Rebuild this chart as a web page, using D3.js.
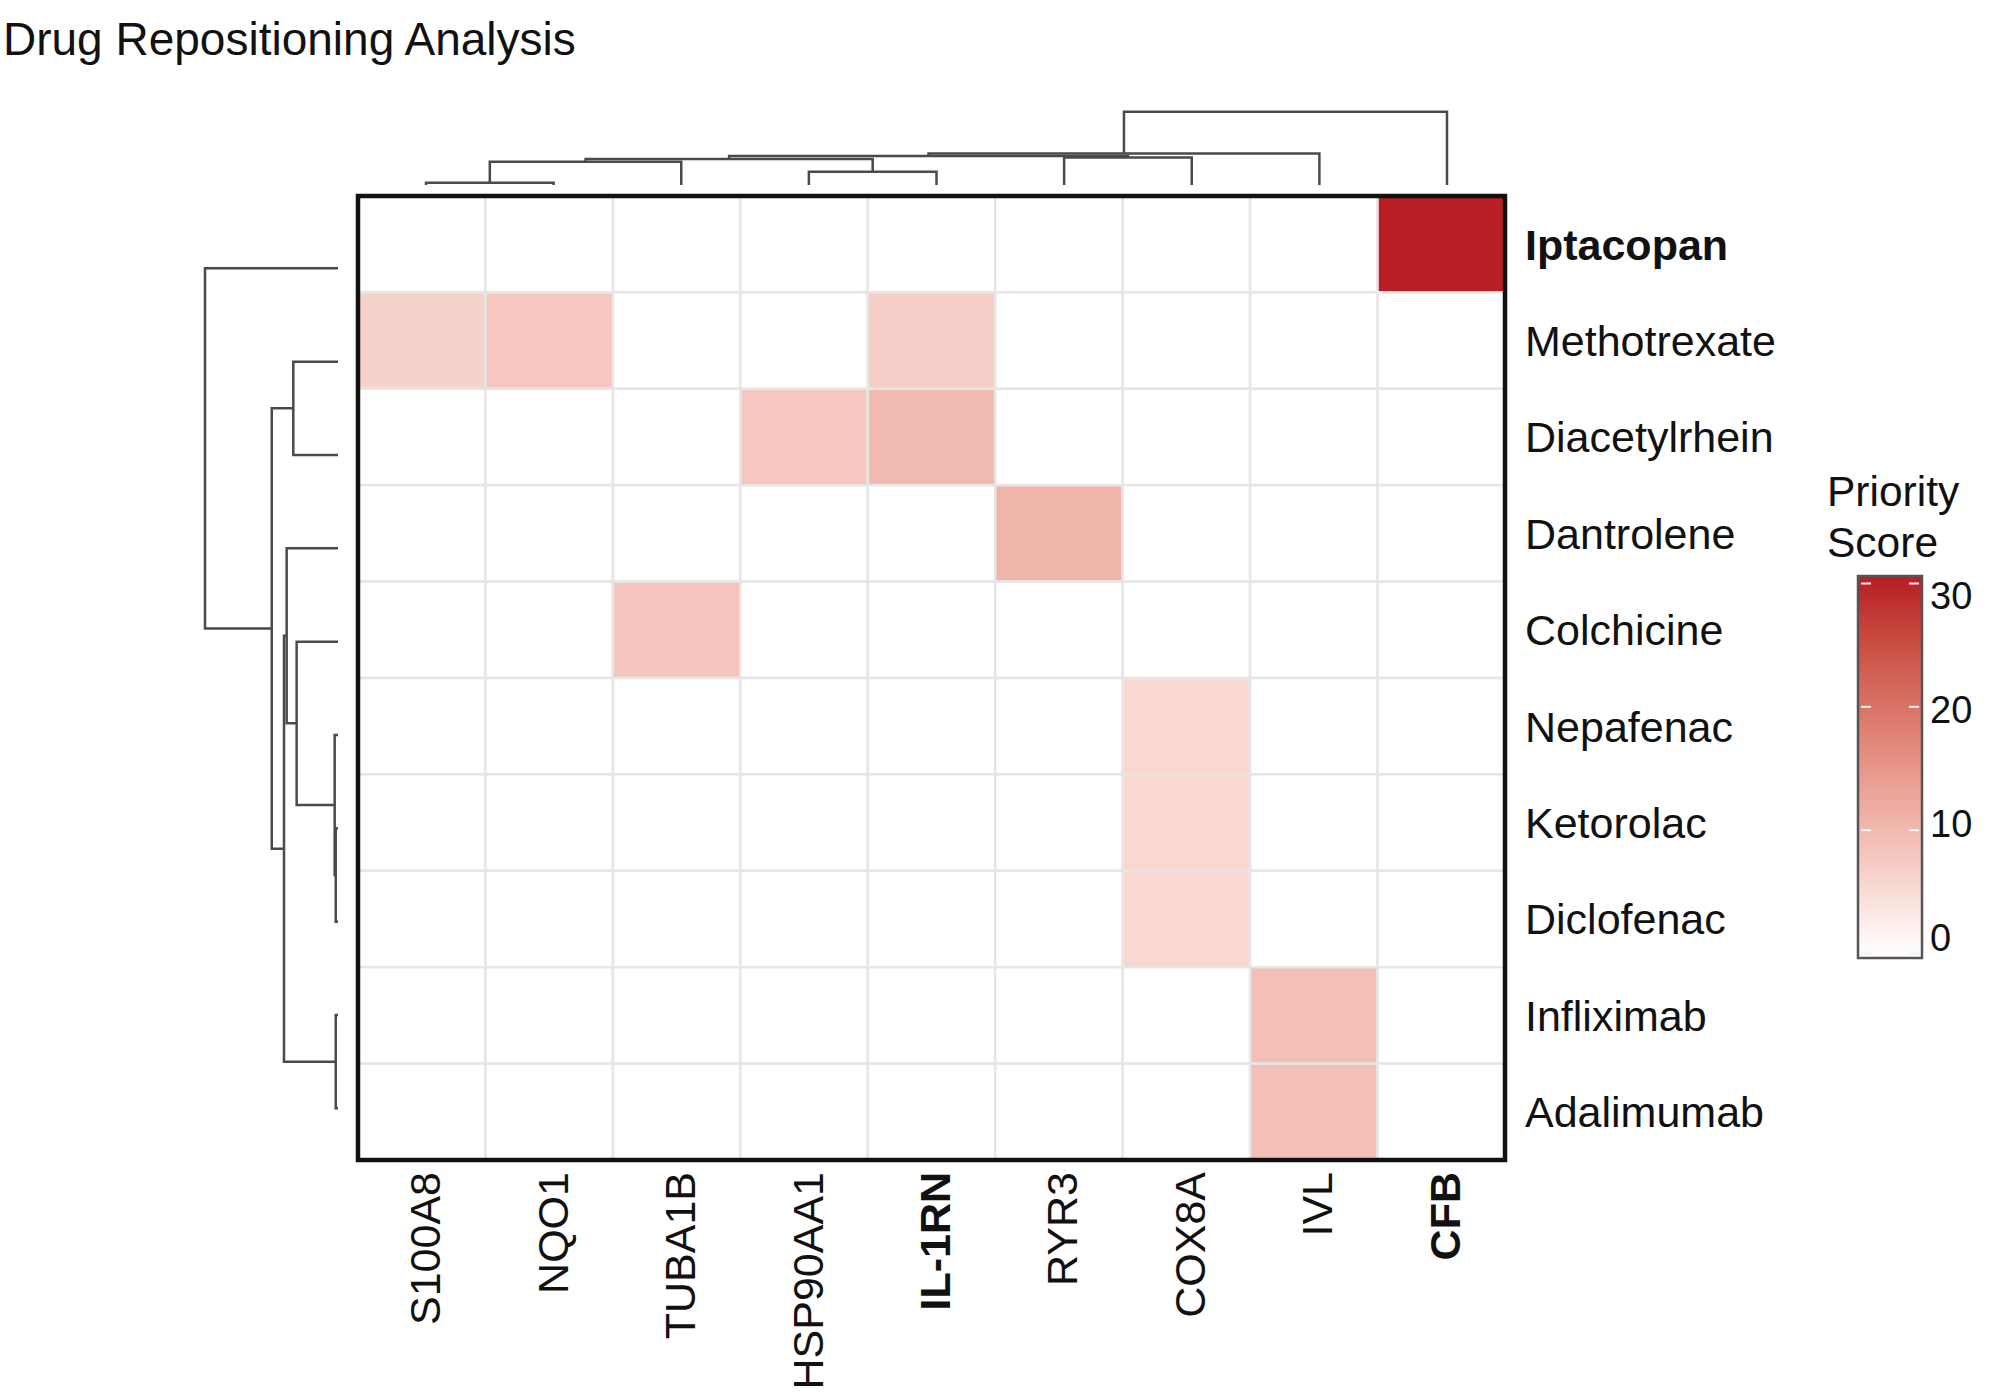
<!DOCTYPE html>
<html><head><meta charset="utf-8">
<script src="https://cdn.jsdelivr.net/npm/d3@7"></script>
<style>body{margin:0;background:#fff;} svg{display:block;}</style>
</head><body>
<svg id="chart" width="2016" height="1400"></svg>
<script>
// ---------- data ----------
const chartTitle = "Drug Repositioning Analysis";
const drugs = ["Iptacopan","Methotrexate","Diacetylrhein","Dantrolene","Colchicine","Nepafenac","Ketorolac","Diclofenac","Infliximab","Adalimumab"];
const genes = ["S100A8","NQO1","TUBA1B","HSP90AA1","IL-1RN","RYR3","COX8A","IVL","CFB"];
const boldDrugs = ["Iptacopan"];
const boldGenes = ["IL-1RN","CFB"];
// priority scores: one row per drug, one column per gene
const scores = [
  [0,   0,   0,   0,   0,   0,    0,   0,  30],
  [6.5, 8,   0,   0,   7,   0,    0,   0,  0],
  [0,   0,   0,   8,   9.7, 0,    0,   0,  0],
  [0,   0,   0,   0,   0,   10.5, 0,   0,  0],
  [0,   0,   8.3, 0,   0,   0,    0,   0,  0],
  [0,   0,   0,   0,   0,   0,    5.6, 0,  0],
  [0,   0,   0,   0,   0,   0,    5.6, 0,  0],
  [0,   0,   0,   0,   0,   0,    5.6, 0,  0],
  [0,   0,   0,   0,   0,   0,    0,   9,  0],
  [0,   0,   0,   0,   0,   0,    0,   9,  0]
];
const legendTitle = ["Priority","Score"];
const legendTicks = [0,10,20,30];
const scoreDomain = [0,30];
// hclust-style merges (negative = leaf index+1, positive = earlier merge)
const rowMerge  = [[-7,-8],[-9,-10],[-6,1],[-5,3],[-4,4],[5,2],[-2,-3],[7,6],[-1,8]];
const rowHeight = [0.17, 0.17, 0.25, 3.11, 3.86, 4.06, 3.36, 4.98, 10];
const colMerge  = [[-1,-2],[1,-3],[-4,-5],[2,3],[-6,-7],[4,5],[6,-8],[7,-9]];
const colHeight = [0.31, 3.18, 1.81, 3.55, 3.75, 3.96, 4.3, 10];

// ---------- layout ----------
const FONT = "'Liberation Sans', Arial, Helvetica, sans-serif";
const svg = d3.select("#chart");
const hm = {x0:358, x1:1505, y0:196, y1:1160};

const x = d3.scaleBand().domain(genes).range([hm.x0, hm.x1]);
const y = d3.scaleBand().domain(drugs).range([hm.y0, hm.y1]);
const color = d3.scaleLinear().domain(scoreDomain).range(["#ffffff", "#b81e24"])
  .interpolate(d3.interpolateLab).clamp(true);

// title
svg.append("text").attr("x", 3).attr("y", 55)
  .attr("font-family", FONT).attr("font-size", 46).attr("fill", "#111")
  .text(chartTitle);

// cells
const cells = [];
drugs.forEach((d, i) => genes.forEach((g, j) => cells.push({d, g, v: scores[i][j]})));
svg.append("g").selectAll("rect").data(cells).join("rect")
  .attr("x", c => x(c.g)).attr("y", c => y(c.d))
  .attr("width", x.bandwidth()).attr("height", y.bandwidth())
  .attr("fill", c => color(c.v))
  .attr("stroke", "#e6e6e6").attr("stroke-width", 2.5);

// outer border
svg.append("rect").attr("x", hm.x0).attr("y", hm.y0)
  .attr("width", hm.x1 - hm.x0).attr("height", hm.y1 - hm.y0)
  .attr("fill", "none").attr("stroke", "#111").attr("stroke-width", 4.5);

// row labels
svg.append("g").selectAll("text").data(drugs).join("text")
  .attr("x", hm.x1 + 20).attr("y", d => y(d) + y.bandwidth() / 2).attr("dy", "0.36em")
  .attr("font-family", FONT).attr("font-size", 43).attr("fill", "#111")
  .attr("font-weight", d => boldDrugs.includes(d) ? "bold" : "normal")
  .text(d => d);

// column labels
svg.append("g").selectAll("text").data(genes).join("text")
  .attr("transform", g => `translate(${x(g) + x.bandwidth() / 2 + 3},${hm.y1 + 12}) rotate(-90)`)
  .attr("dy", "0.36em").attr("text-anchor", "end")
  .attr("font-family", FONT).attr("font-size", 43).attr("fill", "#111")
  .attr("font-weight", g => boldGenes.includes(g) ? "bold" : "normal")
  .text(g => g);

// ---------- dendrograms ----------
function dendroPaths(merge, heights, leafPos) {
  const nodes = [], paths = [];
  const get = k => k < 0 ? {p: leafPos(-k - 1), h: 0} : nodes[k - 1];
  merge.forEach((m, i) => {
    const a = get(m[0]), b = get(m[1]), h = heights[i];
    paths.push({a, b, h});
    nodes.push({p: (a.p + b.p) / 2, h});
  });
  return paths;
}
const colLeaf = d3.scalePoint().domain(genes).range([426, 1447]);
const colH = d3.scaleLinear().domain([0, 10]).range([185, 111.7]);
const colPaths = dendroPaths(colMerge, colHeight, i => colLeaf(genes[i]));
svg.append("g").selectAll("path").data(colPaths).join("path")
  .attr("d", s => `M${s.a.p},${colH(s.a.h)}V${colH(s.h)}H${s.b.p}V${colH(s.b.h)}`)
  .attr("fill", "none").attr("stroke", "#4a4a4a").attr("stroke-width", 2.5);

const rowLeaf = d3.scalePoint().domain(drugs).range([268.3, 1108.3]);
const rowH = d3.scaleLinear().domain([0, 10]).range([338, 205]);
const rowPaths = dendroPaths(rowMerge, rowHeight, i => rowLeaf(drugs[i]));
svg.append("g").selectAll("path").data(rowPaths).join("path")
  .attr("d", s => `M${rowH(s.a.h)},${s.a.p}H${rowH(s.h)}V${s.b.p}H${rowH(s.b.h)}`)
  .attr("fill", "none").attr("stroke", "#4a4a4a").attr("stroke-width", 2.5);

// ---------- legend ----------
const lg = {x: 1858, w: 64, y0: 576, y1: 958};
const lScale = d3.scaleLinear().domain(scoreDomain).range([953.5, 583.5]);
const labScale = d3.scaleLinear().domain(scoreDomain).range([937, 595]);
const grad = svg.append("defs").append("linearGradient").attr("id", "lgGrad")
  .attr("gradientUnits", "userSpaceOnUse")
  .attr("x1", 0).attr("y1", lg.y1).attr("x2", 0).attr("y2", lg.y0);
d3.range(0, 1.0001, 0.05).forEach(t => {
  const yy = lg.y1 - t * (lg.y1 - lg.y0);
  grad.append("stop").attr("offset", t).attr("stop-color", color(lScale.invert(yy)));
});
svg.append("rect").attr("x", lg.x).attr("y", lg.y0).attr("width", lg.w).attr("height", lg.y1 - lg.y0)
  .attr("fill", "url(#lgGrad)").attr("stroke", "#555").attr("stroke-width", 2.5);
const tk = svg.append("g");
legendTicks.forEach(v => {
  tk.append("line").attr("x1", lg.x + 3).attr("x2", lg.x + 13).attr("y1", lScale(v)).attr("y2", lScale(v))
    .attr("stroke", "#f4f4f4").attr("stroke-width", 2);
  tk.append("line").attr("x1", lg.x + lg.w - 13).attr("x2", lg.x + lg.w - 3).attr("y1", lScale(v)).attr("y2", lScale(v))
    .attr("stroke", "#f4f4f4").attr("stroke-width", 2);
});
svg.append("g").selectAll("text").data(legendTicks).join("text")
  .attr("x", lg.x + lg.w + 8).attr("y", v => labScale(v)).attr("dy", "0.36em")
  .attr("font-family", FONT).attr("font-size", 38).attr("fill", "#111")
  .text(v => v);
svg.append("g").selectAll("text").data(legendTitle).join("text")
  .attr("x", 1827).attr("y", (t, i) => 506 + i * 51)
  .attr("font-family", FONT).attr("font-size", 42.5).attr("fill", "#111")
  .text(t => t);
</script>
</body></html>
